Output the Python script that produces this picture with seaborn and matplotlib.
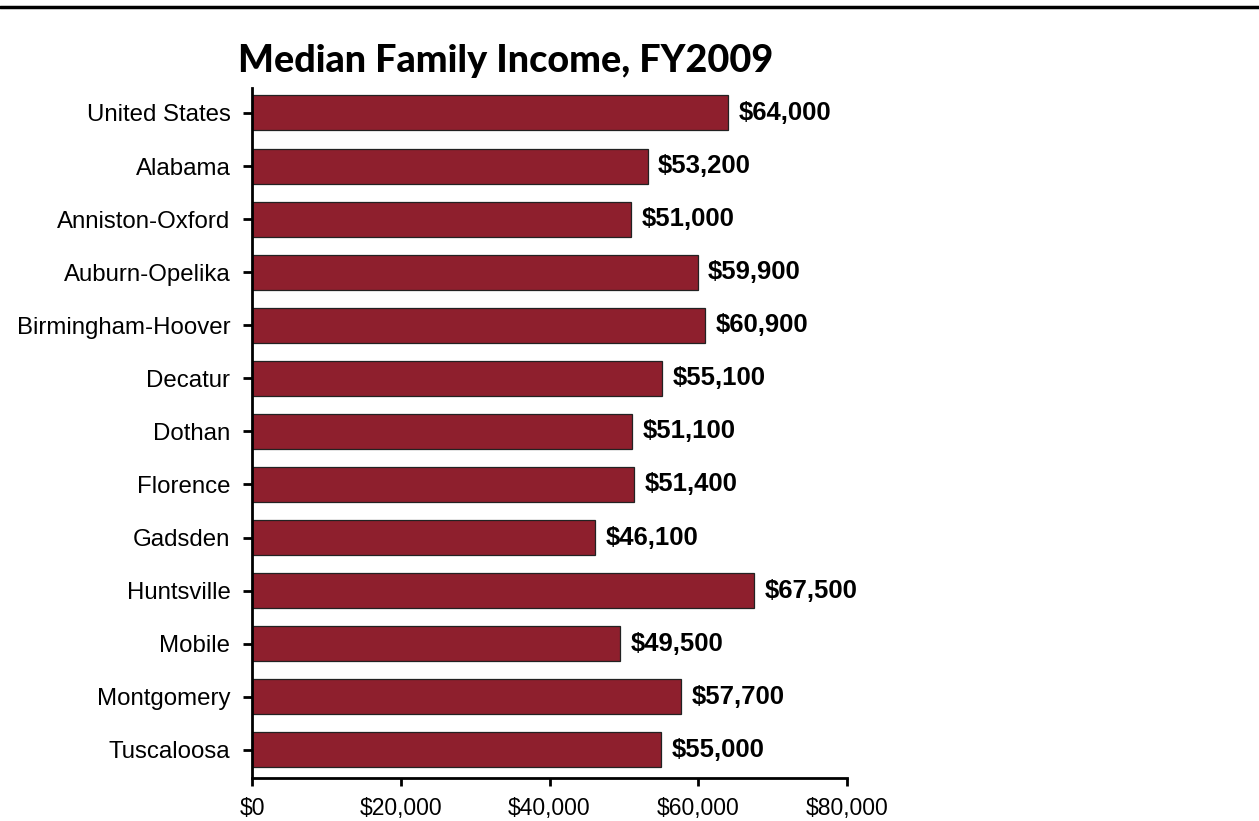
import matplotlib
matplotlib.use("Agg")
import matplotlib.pyplot as plt
import matplotlib.ticker as mticker
import seaborn as sns
import pandas as pd

# Chart data
areas = ["United States", "Alabama", "Anniston-Oxford", "Auburn-Opelika",
         "Birmingham-Hoover", "Decatur", "Dothan", "Florence", "Gadsden",
         "Huntsville", "Mobile", "Montgomery", "Tuscaloosa"]
incomes = [64000, 53200, 51000, 59900, 60900, 55100, 51100, 51400, 46100,
           67500, 49500, 57700, 55000]

df = pd.DataFrame({"area": areas, "income": incomes})

sns.set_style("white")
plt.rcParams["font.family"] = ["Liberation Sans", "DejaVu Sans"]
plt.rcParams["text.color"] = "black"

fig = plt.figure(figsize=(12.59, 8.21), dpi=100)
ax = fig.add_axes([252 / 1259, 1 - 778 / 821, (847 - 252) / 1259, (778 - 88) / 821])

sns.barplot(data=df, x="income", y="area", orient="h", color="#8E1F2D",
            saturation=1, width=0.66, edgecolor="#222222", linewidth=0.9, ax=ax)

# value labels
for i, v in enumerate(incomes):
    ax.text(v + 1400, i, f"${v:,.0f}", va="center", ha="left",
            fontsize=18.5, fontweight="bold", color="black")

ax.set_xlim(0, 80000)
ax.set_ylim(12.53, -0.47)
ax.set_xticks([0, 20000, 40000, 60000, 80000])
ax.xaxis.set_major_formatter(mticker.FuncFormatter(lambda x, p: f"${x:,.0f}"))
ax.set_xlabel("")
ax.set_ylabel("")

for s in ["top", "right"]:
    ax.spines[s].set_visible(False)
for s in ["left", "bottom"]:
    ax.spines[s].set_color("black")
    ax.spines[s].set_linewidth(2)

ax.tick_params(axis="x", direction="out", length=6, width=2, labelsize=16.5, pad=8,
               bottom=True, colors="black")
ax.tick_params(axis="y", direction="out", length=6.5, width=2, labelsize=17.3, pad=9,
               left=True, colors="black")

# title
fig.text(238 / 1259, 1 - 72 / 821, "Median Family Income, FY2009",
         fontsize=27.2, fontweight="black", family=["Lato", "DejaVu Sans"],
         color="black", ha="left", va="baseline")

# top rule
fig.add_artist(plt.Line2D([0, 1], [1 - 7 / 821, 1 - 7 / 821], color="black", linewidth=2.5))

fig.savefig("out.png", dpi=100)
